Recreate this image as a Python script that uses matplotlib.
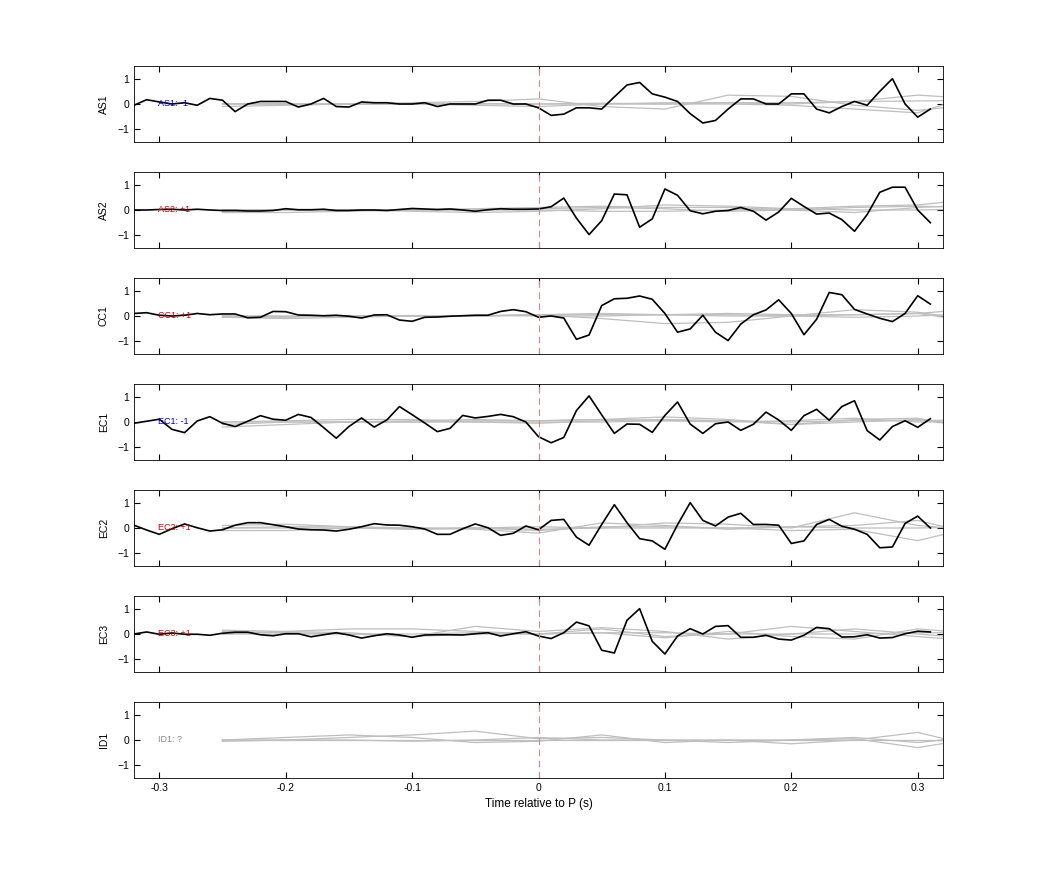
import matplotlib
matplotlib.use('Agg')
import matplotlib.pyplot as plt
import numpy as np

plt.rcParams['font.family'] = ['Liberation Sans', 'DejaVu Sans']

# time axes
t = np.arange(-32, 32) / 100.0
t_gray = np.arange(-25, 40, 5) / 100.0

stations = ['AS1', 'AS2', 'CC1', 'EC1', 'EC2', 'EC3', 'ID1']
polarity = ['AS1: -1', 'AS2: +1', 'CC1: +1', 'EC1: -1', 'EC2: +1', 'EC3: +1', 'ID1: ?']
pol_color = ['#0000cc', '#cc0000', '#cc0000', '#0000cc', '#cc0000', '#cc0000', '#888888']

as1 = [-0.05, 0.17, 0.08, 0, 0.05, -0.05, 0.22, 0.15, -0.3, 0, 0.1, 0.1, 0.1, -0.12, 0, 0.22,
       -0.1, -0.12, 0.08, 0.05, 0.05, 0, 0, 0.05, -0.1, 0, 0, 0, 0.15, 0.15, 0, 0,
       -0.15, -0.45, -0.4, -0.15, -0.15, -0.2, 0.28, 0.75, 0.85, 0.4, 0.27, 0.1, -0.38, -0.75, -0.65, -0.2,
       0.2, 0.2, 0, 0, 0.4, 0.4, -0.2, -0.35, -0.1, 0.1, -0.05, 0.5, 1.0, 0, -0.52, -0.2]
as2 = [0, 0, 0.02, 0.03, 0, 0.03, 0, -0.02, -0.02, -0.04, -0.04, -0.02, 0.05, 0.01, 0.01, 0.03,
       -0.02, -0.02, 0, 0, -0.02, 0.02, 0.06, 0.04, 0.02, 0.04, 0, -0.05, 0.01, 0.05, 0.03, 0.03,
       0.04, 0.13, 0.47, -0.32, -0.97, -0.42, 0.63, 0.6, -0.68, -0.35, 0.83, 0.58, -0.03, -0.15, -0.05, -0.02,
       0.1, -0.05, -0.4, -0.08, 0.46, 0.14, -0.16, -0.12, -0.38, -0.84, -0.18, 0.7, 0.9, 0.9, 0, -0.5]
cc1 = [0.1, 0.13, 0.03, 0, 0.03, 0.1, 0.05, 0.08, 0.08, -0.07, -0.05, 0.18, 0.17, 0.04, 0.03, 0.01,
       0.03, -0.01, -0.08, 0.04, 0.05, -0.16, -0.21, -0.05, -0.04, -0.01, 0.01, 0.03, 0.03, 0.18, 0.25, 0.17,
       -0.05, 0, -0.08, -0.92, -0.75, 0.41, 0.68, 0.7, 0.79, 0.66, 0.1, -0.64, -0.51, 0.03, -0.64, -0.97,
       -0.32, 0.05, 0.24, 0.64, 0.1, -0.74, -0.13, 0.93, 0.84, 0.26, 0.08, -0.09, -0.22, 0.1, 0.8, 0.47]
ec1 = [-0.05, 0.03, 0.11, -0.29, -0.42, 0.04, 0.21, -0.05, -0.18, 0.03, 0.25, 0.11, 0.07, 0.3, 0.18, -0.22,
       -0.64, -0.18, 0.16, -0.2, 0.08, 0.61, 0.29, -0.04, -0.38, -0.25, 0.26, 0.16, 0.22, 0.3, 0.21, 0,
       -0.58, -0.82, -0.61, 0.45, 1.03, 0.28, -0.45, -0.08, -0.09, -0.41, 0.26, 0.79, -0.08, -0.45, -0.07, 0,
       -0.33, -0.09, 0.39, 0.08, -0.33, 0.25, 0.5, 0.07, 0.61, 0.84, -0.34, -0.71, -0.18, 0.05, -0.21, 0.13]
ec2 = [0.11, -0.08, -0.25, -0.03, 0.16, 0.01, -0.12, -0.07, 0.11, 0.21, 0.21, 0.13, 0.05, -0.04, -0.07, -0.08,
       -0.12, -0.05, 0.05, 0.17, 0.12, 0.11, 0.05, -0.04, -0.25, -0.25, -0.03, 0.16, 0.01, -0.29, -0.21, 0.08,
       -0.07, 0.3, 0.34, -0.36, -0.68, 0.14, 0.92, 0.21, -0.42, -0.51, -0.84, 0.13, 1.0, 0.3, 0.08, 0.43,
       0.58, 0.14, 0.14, 0.11, -0.61, -0.51, 0.14, 0.34, 0.07, -0.05, -0.25, -0.78, -0.75, 0.18, 0.47, 0]
ec3 = [0, 0.08, -0.01, 0.04, -0.01, -0.01, -0.05, 0.03, 0.07, 0.07, -0.03, -0.07, 0.01, 0.01, -0.11, -0.03,
       0.05, -0.04, -0.16, -0.07, 0.01, -0.04, -0.13, -0.04, -0.03, -0.03, -0.04, 0.01, 0.05, -0.08, 0.01, 0.09,
       -0.08, -0.18, 0.05, 0.47, 0.32, -0.64, -0.75, 0.54, 1.0, -0.29, -0.79, -0.08, 0.21, 0, 0.3, 0.33,
       -0.13, -0.13, -0.05, -0.2, -0.24, -0.05, 0.26, 0.21, -0.12, -0.11, -0.03, -0.16, -0.14, 0.01, 0.11, 0.08]
black_traces = [as1, as2, cc1, ec1, ec2, ec3, None]

# gray synthetic traces, sampled every 0.05 s from -0.25 s
gray_traces = [
    [[0, 0, 0, 0.05, 0.1, 0.2, -0.1, -0.2, 0.35, 0.3, -0.05, -0.25, 0.0],
     [-0.1, -0.05, 0, 0, 0, 0, 0, 0.05, 0.05, 0, 0.1, 0.35, 0.2],
     [0, 0, 0, 0, -0.05, -0.1, 0, 0, 0, -0.05, -0.2, -0.35, 0.45],
     [0.02, 0, -0.02, 0, 0.02, 0, 0.03, 0, 0.05, 0.05, 0.1, 0.12, 0.15]],
    [[-0.1, -0.1, -0.05, 0, 0.05, 0.1, 0.15, 0.1, 0.1, 0, -0.1, 0.1, 0.2],
     [-0.05, 0, 0, -0.05, -0.1, -0.05, 0.05, 0.2, 0.15, 0.05, 0.15, 0.2, 0.45],
     [0, 0, 0, 0, 0, 0.05, 0.1, 0.05, -0.05, 0, 0.1, 0.15, 0.1],
     [0, 0.02, 0, 0.02, 0, 0, -0.05, -0.05, 0, 0.05, 0, 0, 0.05]],
    [[-0.05, -0.05, 0, 0, 0, 0.05, 0.1, 0.05, 0, 0, 0.05, 0.1, 0.3],
     [-0.05, -0.1, -0.05, 0, 0, 0.05, -0.1, -0.3, -0.25, 0, 0.25, 0.15, -0.2],
     [0, 0, 0, 0.02, 0, 0.05, 0.05, 0.05, 0.05, 0, -0.05, 0, 0.1],
     [0, -0.02, 0, 0, 0.02, 0, 0, 0.05, 0.1, 0.05, 0.05, 0.1, -0.25]],
    [[-0.2, -0.1, 0, 0.05, 0.1, 0.05, 0.1, 0.2, 0.1, -0.1, 0, 0.1, -0.2],
     [0, 0.05, 0.1, 0.1, 0, -0.05, 0.05, 0.1, 0.05, -0.1, 0.1, 0.15, -0.3],
     [-0.1, 0, 0, 0, 0.05, 0.05, 0.1, 0.05, 0, 0.05, 0.15, 0, 0],
     [0, 0, 0, 0, 0, 0, 0, 0.05, 0.05, 0, 0.05, 0.05, 0.1]],
    [[0.1, 0.15, 0.05, -0.05, 0, 0.05, 0, 0.2, 0.15, 0, 0.6, 0.1, -0.1],
     [-0.1, -0.1, 0, 0, -0.05, -0.2, 0.2, 0.1, -0.05, 0.05, 0.1, 0.3, -0.3],
     [0, 0, 0, -0.05, 0, -0.1, 0.05, 0.05, 0, -0.1, -0.05, -0.5, 0.1],
     [0, 0.05, 0.05, 0, 0, -0.05, 0, 0, 0, 0.05, 0, 0, 0.05]],
    [[0.15, 0.1, 0.2, 0.2, 0.1, 0, 0.2, -0.1, 0, 0.3, 0.1, -0.1, -0.3],
     [0.1, 0.05, 0, -0.1, 0.3, 0.1, 0.25, 0.1, -0.2, 0, 0.2, 0, -0.2],
     [0, 0.1, 0.05, -0.1, 0, 0, 0.05, -0.15, 0.1, -0.1, -0.2, 0.2, 0],
     [0, 0, 0, 0, 0.05, 0, 0.05, 0.05, 0, 0, 0, 0.05, 0.05]],
    [[0, 0, 0.1, 0.2, 0.35, 0.05, 0.1, 0, 0, 0, 0.1, -0.1, 0.15],
     [0, 0.1, 0.2, 0.1, -0.1, -0.05, 0.2, -0.1, 0, -0.15, 0, 0.3, -0.3],
     [-0.05, 0, 0, -0.05, 0, 0.1, 0, 0, -0.1, 0, 0.05, -0.3, 0.1],
     [0, 0, 0, 0, 0, 0, 0, 0, 0, 0, 0, 0, 0]],
]

fig = plt.figure(figsize=(10.42, 8.75), dpi=100)
W, H = 1042.0, 875.0
for k, name in enumerate(stations):
    top = 66 + 106 * k
    ax = fig.add_axes([134 / W, 1 - (top + 76) / H, 809 / W, 76 / H])
    for g in gray_traces[k]:
        ax.plot(t_gray, g, color='0.75', lw=0.9)
    if black_traces[k] is not None:
        ax.plot(t, black_traces[k], color='k', lw=1.2)
    ax.axvline(0, color='#d08a8a', lw=0.8, ls=(0, (6, 4)))
    ax.text(-0.301, 0, polarity[k], color=pol_color[k], fontsize=6.5, va='center')
    ax.set_xlim(-0.32, 0.32)
    ax.set_ylim(-1.5, 1.5)
    ax.set_yticks([-1, 0, 1])
    ax.set_xticks([-0.3, -0.2, -0.1, 0, 0.1, 0.2, 0.3])
    ax.tick_params(direction='in', top=True, right=True, labelsize=7.5, length=4)
    ax.set_ylabel(name, fontsize=7.5, labelpad=6)
    if k < len(stations) - 1:
        ax.set_xticklabels([])
    else:
        ax.set_xticklabels(['-0.3', '-0.2', '-0.1', '0', '0.1', '0.2', '0.3'])
        ax.set_xlabel('Time relative to P (s)', fontsize=8.5)
    for s in ax.spines.values():
        s.set_linewidth(0.6)

fig.savefig('out.png', dpi=100)
